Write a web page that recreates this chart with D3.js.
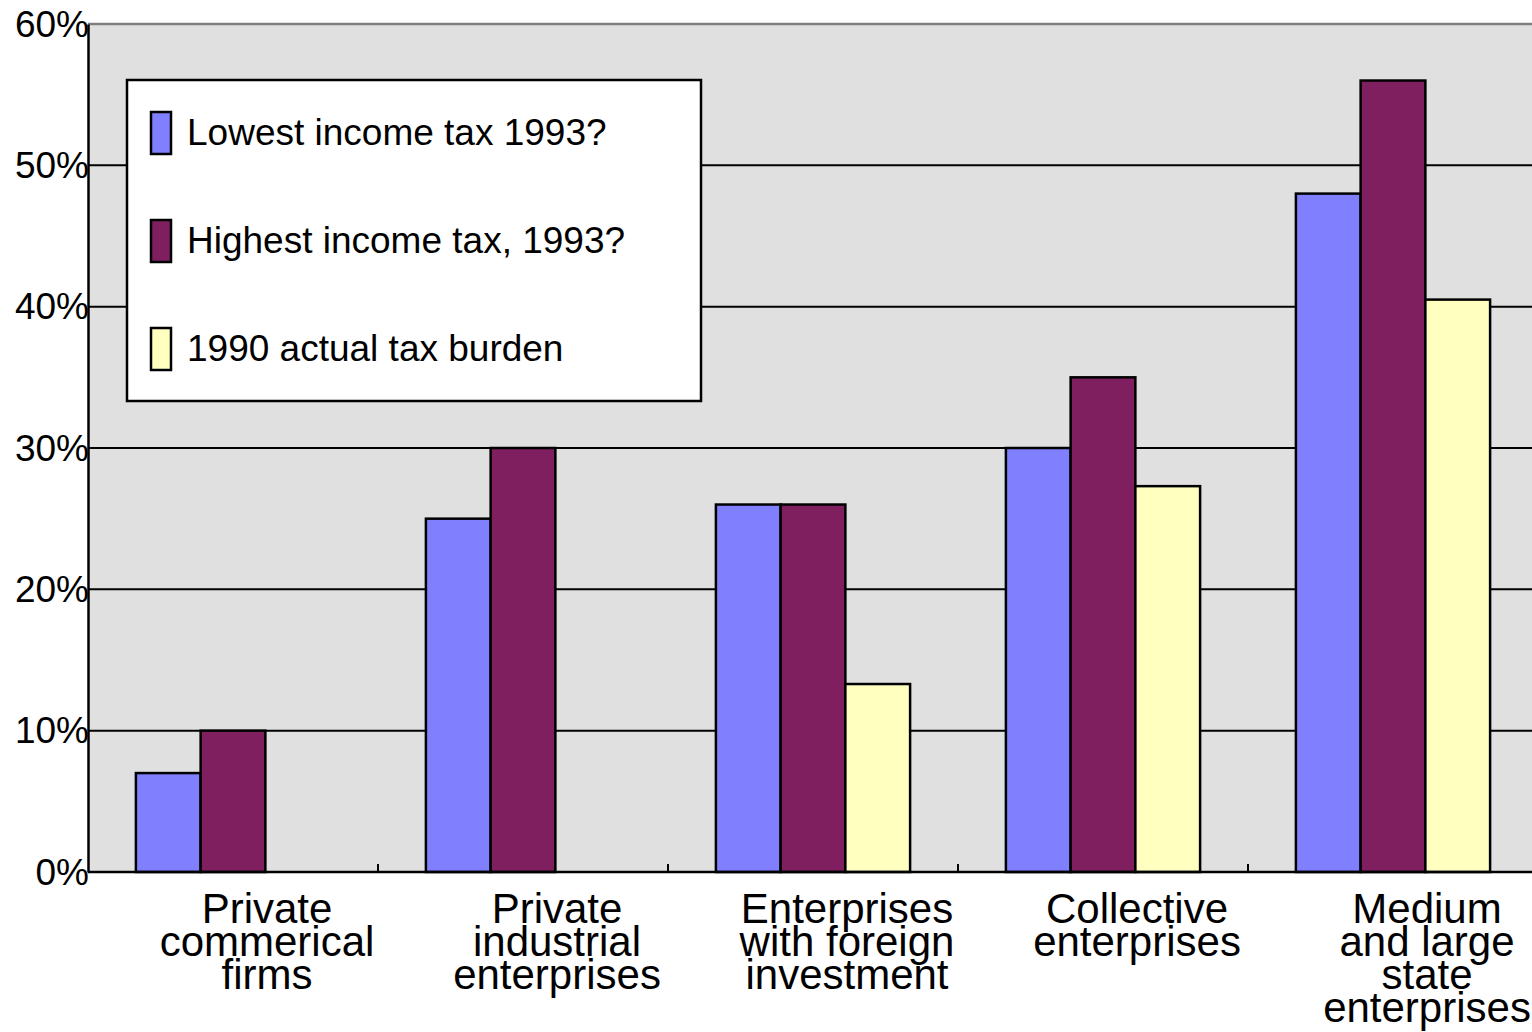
<!DOCTYPE html>
<html>
<head>
<meta charset="utf-8">
<script src="https://cdn.jsdelivr.net/npm/d3@7"></script>
<style>
  body { margin: 0; background: #fff; }
  svg { display: block; }
</style>
</head>
<body>
<div id="chart"></div>
<script>
// Data
const categories = [
    ["Private", "commerical", "firms"],
    ["Private", "industrial", "enterprises"],
    ["Enterprises", "with foreign", "investment"],
    ["Collective", "enterprises"],
    ["Medium", "and large", "state", "enterprises"]
];
const seriesNames = ["Lowest income tax 1993?", "Highest income tax, 1993?", "1990 actual tax burden"];
const lowest1993 = [7, 25, 26, 30, 48];
const highest1993 = [10, 30, 26, 35, 56];
const actual1990 = [null, null, 13.3, 27.3, 40.5];
const colors = ["#8080ff", "#7f1f5f", "#ffffc0"];
const yTicks = [0, 10, 20, 30, 40, 50, 60];

const width = 1532, height = 1032;
const margin = { top: 24, left: 88 };
const plotW = 1450, plotH = 848;

const svg = d3.select("#chart").append("svg")
    .attr("width", width)
    .attr("height", height)
    .style("font-family", "'Liberation Sans', Arial, sans-serif");

const g = svg.append("g").attr("transform", `translate(${margin.left},${margin.top})`);

// Scales
const catIdx = d3.range(categories.length);
const x0 = d3.scaleBand().domain(catIdx).range([0, plotW]).padding(0);
const x1 = d3.scaleBand().domain(d3.range(seriesNames.length))
    .range([0, x0.bandwidth()]).paddingInner(0).paddingOuter(0.74);
const y = d3.scaleLinear().domain([0, 60]).range([plotH, 0]);

// Plot background
g.append("rect")
    .attr("x", 0).attr("y", 0)
    .attr("width", plotW).attr("height", plotH)
    .attr("fill", "#e0e0e0");

// Top border
g.append("line")
    .attr("x1", 0).attr("x2", plotW)
    .attr("y1", 0).attr("y2", 0)
    .attr("stroke", "#808080").attr("stroke-width", 2.5);

// Gridlines
g.selectAll("line.grid")
    .data(yTicks.filter(t => t > 0 && t < 60))
    .join("line")
    .attr("class", "grid")
    .attr("x1", 0).attr("x2", plotW)
    .attr("y1", d => y(d)).attr("y2", d => y(d))
    .attr("stroke", "#000").attr("stroke-width", 2);

// Bars
const allSeries = [lowest1993, highest1993, actual1990];
const barData = [];
catIdx.forEach(c => {
    allSeries.forEach((s, si) => {
        if (s[c] != null) barData.push({ c, si, v: s[c] });
    });
});

g.selectAll("rect.bar")
    .data(barData)
    .join("rect")
    .attr("class", "bar")
    .attr("x", d => x0(d.c) + x1(d.si))
    .attr("y", d => y(d.v))
    .attr("width", x1.bandwidth())
    .attr("height", d => y(0) - y(d.v))
    .attr("fill", d => colors[d.si])
    .attr("stroke", "#000")
    .attr("stroke-width", 2.5);

// Y axis
const yAxis = g.append("g")
    .call(d3.axisLeft(y).tickValues(yTicks).tickSize(0).tickFormat(d => d + "%"));
yAxis.select(".domain").attr("stroke", "#000").attr("stroke-width", 2.5);
yAxis.selectAll("text")
    .attr("x", 1)
    .attr("dy", "0.33em")
    .style("font-size", "37px")
    .style("font-family", "'Liberation Sans', Arial, sans-serif")
    .attr("fill", "#000");

// X axis
const xAxis = g.append("g")
    .attr("transform", `translate(0,${plotH})`);
xAxis.append("line")
    .attr("x1", 0).attr("x2", plotW)
    .attr("stroke", "#000").attr("stroke-width", 2.5);
xAxis.selectAll("line.tick")
    .data(catIdx.slice(1))
    .join("line")
    .attr("class", "tick")
    .attr("x1", d => x0(d)).attr("x2", d => x0(d))
    .attr("y1", 0).attr("y2", -8)
    .attr("stroke", "#000").attr("stroke-width", 2);

// Category labels
const labels = xAxis.selectAll("text.cat")
    .data(catIdx)
    .join("text")
    .attr("class", "cat")
    .attr("text-anchor", "middle")
    .style("font-size", "42px")
    .attr("fill", "#000")
    .attr("transform", d => `translate(${x0(d) + x0.bandwidth() / 2 + 34},51)`);
labels.selectAll("tspan")
    .data(d => categories[d])
    .join("tspan")
    .attr("x", 0)
    .attr("y", (d, i) => i * 33)
    .text(d => d);

// Legend
const legend = svg.append("g").attr("transform", "translate(127,80)");
legend.append("rect")
    .attr("width", 574).attr("height", 321)
    .attr("fill", "#fff").attr("stroke", "#000").attr("stroke-width", 2.5);
const items = legend.selectAll("g.item")
    .data(seriesNames)
    .join("g")
    .attr("class", "item")
    .attr("transform", (d, i) => `translate(0,${53 + i * 108})`);
items.append("rect")
    .attr("x", 24).attr("y", -21)
    .attr("width", 20).attr("height", 42)
    .attr("fill", (d, i) => colors[i])
    .attr("stroke", "#000").attr("stroke-width", 2.5);
items.append("text")
    .attr("x", 60).attr("y", 12)
    .style("font-size", "37px")
    .attr("fill", "#000")
    .text(d => d);
</script>
</body>
</html>
